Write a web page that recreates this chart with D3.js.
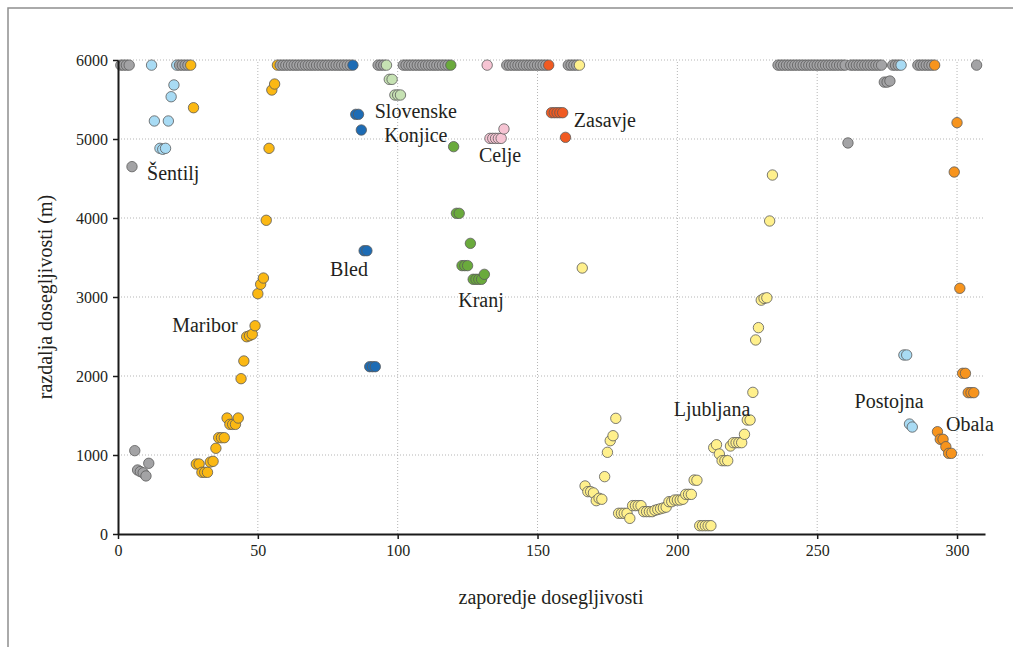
<!DOCTYPE html>
<html><head><meta charset="utf-8">
<script src="https://cdn.jsdelivr.net/npm/d3@7"></script>
<style>
html,body{margin:0;padding:0;background:#fff;}
svg{display:block;}
svg text{font-family:'Liberation Serif','DejaVu Serif',serif;}
</style></head>
<body>
<svg id="chart" width="1013" height="647"></svg>
<script>
// ---------- data (x = zaporedje dosegljivosti, y = razdalja dosegljivosti in m) ----------
const xTicks = [0, 50, 100, 150, 200, 250, 300];
const yTicks = [0, 1000, 2000, 3000, 4000, 5000, 6000];
const TOP = 5935; // unreachable points are drawn at the top of the chart

const grayPts = [
  [1,TOP],[2,TOP],[3,TOP],[4,TOP],[5,4650],[6,1055],[7,810],[8,790],[9,775],[10,735],[11,895],
  [22,TOP],[23,TOP],[24,TOP],[25,TOP],
  [58,TOP],[59,TOP],[60,TOP],[61,TOP],[62,TOP],[63,TOP],[64,TOP],[65,TOP],[66,TOP],[67,TOP],[68,TOP],[69,TOP],[70,TOP],
  [71,TOP],[72,TOP],[73,TOP],[74,TOP],[75,TOP],[76,TOP],[77,TOP],[78,TOP],[79,TOP],[80,TOP],[81,TOP],[82,TOP],[83,TOP],
  [93,TOP],[94,TOP],[95,TOP],
  [102,TOP],[103,TOP],[104,TOP],[105,TOP],[106,TOP],[107,TOP],[108,TOP],[109,TOP],[110,TOP],[111,TOP],[112,TOP],
  [113,TOP],[114,TOP],[115,TOP],[116,TOP],[117,TOP],[118,TOP],
  [139,TOP],[140,TOP],[141,TOP],[142,TOP],[143,TOP],[144,TOP],[145,TOP],[146,TOP],[147,TOP],[148,TOP],[149,TOP],
  [150,TOP],[151,TOP],[152,TOP],[153,TOP],
  [161,TOP],[162,TOP],[163,TOP],[164,TOP],
  [236,TOP],[237,TOP],[238,TOP],[239,TOP],[240,TOP],[241,TOP],[242,TOP],[243,TOP],[244,TOP],[245,TOP],[246,TOP],
  [247,TOP],[248,TOP],[249,TOP],[250,TOP],[251,TOP],[252,TOP],[253,TOP],[254,TOP],[255,TOP],[256,TOP],[257,TOP],
  [258,TOP],[259,TOP],[260,TOP],[261,4950],[262,TOP],[263,TOP],[264,TOP],[265,TOP],[266,TOP],[267,TOP],[268,TOP],
  [269,TOP],[270,TOP],[271,TOP],[272,TOP],[273,TOP],[274,5720],[275,5720],[276,5734],[277,TOP],[278,TOP],[279,TOP],
  [286,TOP],[287,TOP],[288,TOP],[289,TOP],[290,TOP],[291,TOP],[307,TOP]
];
const lightBluePts = [
  [12,TOP],[13,5228],[15,4882],[16,4870],[17,4882],[18,5228],[19,5535],[20,5684],[21,TOP],
  [280,TOP],[281,2266],[282,2266],[283,1392],[284,1354]
];
const mariborPts = [
  [26,TOP],[27,5396],[28,886],[29,886],[30,781],[31,781],[32,781],[33,911],[34,920],[35,1085],
  [36,1219],[37,1219],[38,1219],[39,1468],[40,1388],[41,1388],[42,1388],[43,1468],[44,1966],[45,2190],
  [46,2497],[47,2510],[48,2528],[49,2636],[50,3042],[51,3161],[52,3240],[53,3971],[54,4882],[55,5620],[56,5696],[57,TOP]
];
const bledPts = [[84,TOP],[85,5312],[86,5312],[87,5114],[88,3586],[89,3586],[90,2118],[91,2118],[92,2118]];
const konjicePts = [[96,TOP],[97,5755],[98,5755],[99,5557],[100,5557],[101,5557]];
const kranjPts = [
  [119,TOP],[120,4903],[121,4059],[122,4059],[123,3397],[124,3397],[125,3397],[126,3679],
  [127,3224],[128,3224],[129,3224],[130,3224],[131,3287]
];
const celjePts = [[132,TOP],[133,5008],[134,5008],[135,5008],[136,5008],[137,5008],[138,5127]];
const zasavjePts = [[154,TOP],[155,5333],[156,5333],[157,5333],[158,5333],[159,5333],[160,5021]];
const ljubljanaPts = [
  [165,TOP],[166,3367],[167,608],[168,536],[169,536],[170,520],[171,422],[172,452],[173,440],[174,726],
  [175,1034],[176,1181],[177,1244],[178,1464],[179,262],[180,262],[181,262],[182,262],[183,198],
  [184,359],[185,359],[186,359],[187,359],[188,283],[189,283],[190,283],[191,283],
  [192,300],[193,310],[194,320],[195,330],[196,340],[197,409],[198,409],[199,430],[200,430],[201,430],[202,440],
  [203,502],[204,502],[205,502],[206,683],[207,680],[208,105],[209,105],[210,105],[211,105],[212,105],
  [213,1093],[214,1130],[215,1013],[216,928],[217,928],[218,928],[219,1114],[220,1156],[221,1156],[222,1156],
  [223,1156],[224,1262],[225,1443],[226,1443],[227,1793],[228,2456],[229,2612],[230,2960],[231,2983],[232,2990],
  [233,3962],[234,4544]
];
const obalaPts = [
  [292,TOP],[293,1295],[294,1199],[295,1199],[296,1105],[297,1021],[298,1021],[299,4582],[300,5207],
  [301,3110],[302,2034],[303,2034],[304,1789],[305,1789],[306,1789]
];

const seriesNames  = ["ostalo", "svetlo modra", "Maribor", "Bled", "Slovenske Konjice", "Kranj", "Celje", "Zasavje", "Ljubljana", "Obala"];
const seriesPoints = [grayPts, lightBluePts, mariborPts, bledPts, konjicePts, kranjPts, celjePts, zasavjePts, ljubljanaPts, obalaPts];
const seriesColors = ["#a3a3a5", "#a8dbf4", "#fbb813", "#1d6cb5", "#c6e2b3", "#6aaa3c", "#f6c4d3", "#f05a22", "#fff08c", "#f7941d"];

// labels anchored in data coordinates
const labelTexts  = ["Šentilj", "Maribor", "Slovenske", "Konjice", "Bled", "Celje", "Zasavje", "Kranj", "Ljubljana", "Postojna", "Obala"];
const labelX      = [10.4, 31.1, 106.5, 106.5, 82.6, 136.6, 174.1, 129.8, 212.4, 275.7, 304.6];
const labelY      = [4481, 2557, 5266, 4962, 3266, 4709, 5152, 2873, 1494, 1595, 1304];
const labelAnchor = ["start","middle","middle","middle","middle","middle","middle","middle","middle","middle","middle"];

// ---------- drawing ----------
const svg = d3.select("#chart");
const serif = "'Liberation Serif', 'DejaVu Serif', serif";
const ink = "#231f20";

// frame
svg.append("rect").attr("x", 8).attr("y", 8).attr("width", 1020).attr("height", 660)
  .attr("fill", "none").attr("stroke", "#8f8f8f").attr("stroke-width", 1.5);

const x = d3.scaleLinear().domain([0, 310]).range([118, 985]);
const y = d3.scaleLinear().domain([0, 6000]).range([534, 60]);

// grid
const grid = svg.append("g").attr("stroke", "#b5b5b5").attr("stroke-width", 1).attr("stroke-dasharray", "1,2");
grid.selectAll("line.h").data(yTicks.filter(d => d > 0)).join("line")
  .attr("x1", x(0)).attr("x2", x(310)).attr("y1", d => y(d)).attr("y2", d => y(d));
grid.selectAll("line.v").data(xTicks.filter(d => d > 0)).join("line")
  .attr("y1", y(0)).attr("y2", y(6000)).attr("x1", d => x(d)).attr("x2", d => x(d));

// points
const all = [];
seriesPoints.forEach((pts, i) => pts.forEach(p => all.push({x: p[0], y: p[1], c: seriesColors[i], s: seriesNames[i]})));
all.sort((a, b) => a.x - b.x);
svg.append("g").selectAll("circle").data(all).join("circle")
  .attr("cx", d => x(d.x)).attr("cy", d => y(d.y)).attr("r", 5.2)
  .attr("fill", d => d.c).attr("stroke", "#5a5a5a").attr("stroke-width", 0.8);

// axes
const yAxis = svg.append("g").attr("transform", `translate(${x(0)},0)`)
  .call(d3.axisLeft(y).tickValues(yTicks).tickFormat(d3.format("d")).tickSize(5).tickSizeOuter(0).tickPadding(5));
const xAxis = svg.append("g").attr("transform", `translate(0,${y(0)})`)
  .call(d3.axisBottom(x).tickValues(xTicks).tickFormat(d3.format("d")).tickSize(5).tickSizeOuter(0).tickPadding(6));
[yAxis, xAxis].forEach(a => {
  a.attr("font-family", null).attr("font-size", null);
  a.select(".domain").attr("stroke", "#1a1a1a").attr("stroke-width", 2);
  a.selectAll(".tick line").attr("stroke", "#1a1a1a").attr("stroke-width", 1.5);
  a.selectAll("text").style("font-family", serif).style("font-size", "16px").attr("fill", ink);
});

// axis titles
svg.append("text").attr("x", 551).attr("y", 604).attr("text-anchor", "middle")
  .style("font-family", serif).style("font-size", "20px").attr("fill", ink).text("zaporedje dosegljivosti");
svg.append("text").attr("transform", `translate(52,${(y(0) + y(6000)) / 2}) rotate(-90)`).attr("text-anchor", "middle")
  .style("font-family", serif).style("font-size", "20px").attr("fill", ink).text("razdalja dosegljivosti (m)");

// region labels
svg.append("g").selectAll("text").data(labelTexts).join("text")
  .attr("x", (d, i) => x(labelX[i])).attr("y", (d, i) => y(labelY[i]))
  .attr("text-anchor", (d, i) => labelAnchor[i])
  .style("font-family", serif).style("font-size", "20px").attr("fill", ink).text(d => d);
</script>
</body></html>
